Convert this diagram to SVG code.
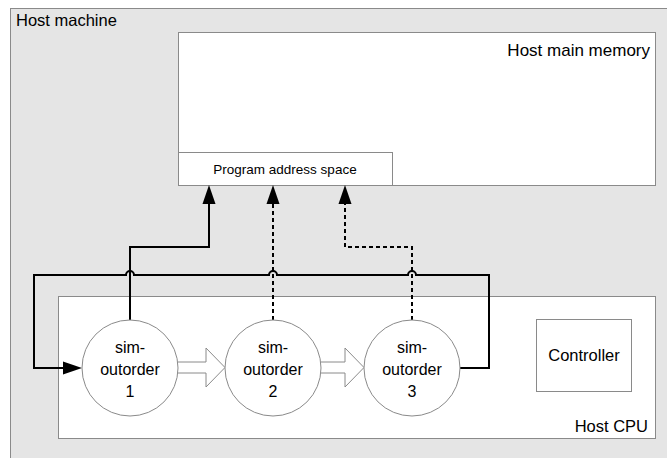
<svg xmlns="http://www.w3.org/2000/svg" width="667" height="458" viewBox="0 0 667 458">
<defs>
<style>
text{font-family:"Liberation Sans",Arial,sans-serif;fill:#000}
.box{stroke:#8a8a8a;stroke-width:1}
.c{fill:#fff;stroke:#8a8a8a;stroke-width:1}
.wire{fill:none;stroke:#000;stroke-width:2}
.dash{stroke-dasharray:4 3}
.blk{fill:#fff;stroke:#8a8a8a;stroke-width:1}
</style>
</defs>
<rect width="667" height="458" fill="#fff"/>
<g id="host-machine">
<rect class="box" x="10.5" y="8.5" width="670" height="460" fill="#e5e5e5"/>
<text x="16" y="26" font-size="16.5">Host machine</text>
</g>
<g id="host-main-memory">
<rect class="box" x="178.5" y="32.5" width="477" height="153" fill="#fff"/>
<text x="650" y="56" font-size="17" text-anchor="end">Host main memory</text>
</g>
<g id="program-address-space">
<rect class="box" x="178.5" y="152.5" width="214" height="33" fill="#fff"/>
<text x="285" y="174" font-size="13.5" text-anchor="middle">Program address space</text>
</g>
<g id="host-cpu">
<rect class="box" x="58.5" y="296.5" width="597" height="142" fill="#fff"/>
<text x="648" y="432" font-size="16.5" text-anchor="end">Host CPU</text>
</g>
<g id="controller">
<rect class="box" x="536.5" y="319.5" width="95" height="72" fill="#fff"/>
<text x="584" y="361" font-size="16.5" text-anchor="middle">Controller</text>
</g>
<g id="connectors">
<path class="blk" d="M178,362 H206 V348 L225,367.5 L206,387 V373 H178"/>
<path class="blk" d="M321,362 H345 V348 L364,367.5 L345,387 V373 H321"/>
<path class="wire" d="M460,368 H489 V275 H416 A4,4 0 0 0 408,275 H277 A4,4 0 0 0 269,275 H134 A4,4 0 0 0 126,275 H34 V368 H64"/>
<path d="M63,361.5 L82,368 L63,374.5 Z" fill="#000"/>
<path class="wire" d="M130,320 V247 H209 V203"/>
<path d="M202.5,204 L209,185 L215.5,204 Z" fill="#000"/>
<path class="wire dash" d="M273,320 V203"/>
<path d="M266.5,204 L273,185 L279.5,204 Z" fill="#000"/>
<path class="wire dash" d="M412,320 V247 H345 V203"/>
<path d="M338.5,204 L345,185 L351.5,204 Z" fill="#000"/>
</g>
<g id="sim-outorder-1">
<circle class="c" cx="130" cy="368" r="48"/>
<text x="130" y="353" font-size="16" text-anchor="middle">sim-</text>
<text x="130" y="375" font-size="16" text-anchor="middle">outorder</text>
<text x="130" y="397" font-size="16" text-anchor="middle">1</text>
</g>
<g id="sim-outorder-2">
<circle class="c" cx="273" cy="368" r="48"/>
<text x="273" y="353" font-size="16" text-anchor="middle">sim-</text>
<text x="273" y="375" font-size="16" text-anchor="middle">outorder</text>
<text x="273" y="397" font-size="16" text-anchor="middle">2</text>
</g>
<g id="sim-outorder-3">
<circle class="c" cx="412" cy="368" r="48"/>
<text x="412" y="353" font-size="16" text-anchor="middle">sim-</text>
<text x="412" y="375" font-size="16" text-anchor="middle">outorder</text>
<text x="412" y="397" font-size="16" text-anchor="middle">3</text>
</g>
</svg>
